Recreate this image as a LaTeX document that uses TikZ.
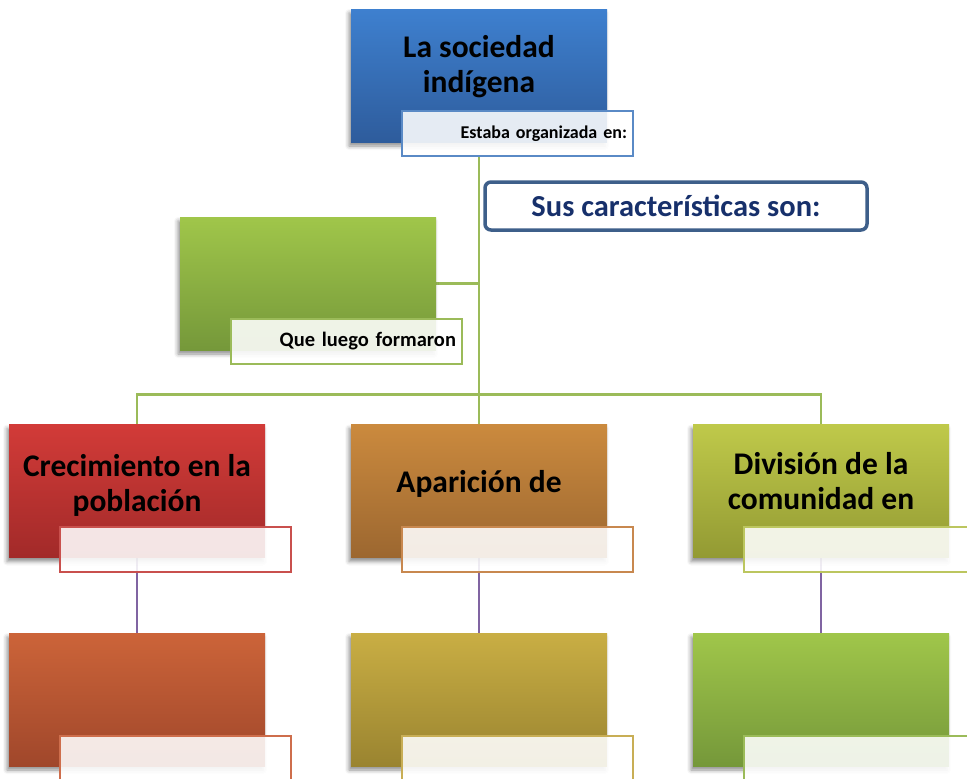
\documentclass[tikz,border=0pt]{standalone}
\usepackage{fontspec}
\setmainfont{Carlito}
\usetikzlibrary{shadows.blur,backgrounds}
\definecolor{blueT}{HTML}{3E80CF}
\definecolor{blueB}{HTML}{2E5C9C}
\definecolor{blueL}{HTML}{5A8AC6}
\definecolor{greenT}{HTML}{A0C64A}
\definecolor{greenB}{HTML}{75983A}
\definecolor{greenL}{HTML}{9BBB59}
\definecolor{redT}{HTML}{D23B38}
\definecolor{redB}{HTML}{A22A29}
\definecolor{redL}{HTML}{C9504D}
\definecolor{orT}{HTML}{CB8A3E}
\definecolor{orB}{HTML}{9C6730}
\definecolor{orL}{HTML}{C8884F}
\definecolor{ygT}{HTML}{BFC94A}
\definecolor{ygB}{HTML}{939A33}
\definecolor{ygL}{HTML}{BCC65F}
\definecolor{ruT}{HTML}{CC6439}
\definecolor{ruB}{HTML}{A0472B}
\definecolor{ruL}{HTML}{CE6E4C}
\definecolor{olT}{HTML}{C9AE44}
\definecolor{olB}{HTML}{9A8430}
\definecolor{olL}{HTML}{C8AE55}
\definecolor{susB}{HTML}{3E5F8A}
\definecolor{susT}{HTML}{17306B}
\definecolor{linG}{HTML}{9BBB59}
\definecolor{linP}{HTML}{8064A2}
\begin{document}
\begin{tikzpicture}[x=1pt,y=-1pt,
  bigbox/.style 2 args={minimum width=256pt, minimum height=133pt, inner sep=0pt,
    top color=#1, bottom color=#2,
    blur shadow={shadow xshift=-2pt, shadow yshift=-4pt, shadow blur radius=4pt, shadow opacity=45}},
  labbox/.style={draw=#1, line width=2pt, fill=white, fill opacity=0.88, text opacity=1,
    minimum width=231pt, minimum height=45pt, inner ysep=0pt, inner xsep=6pt,
    text width=219pt, align=right, font=\bfseries\fontsize{18}{21}\selectfont},
  title/.style={align=center, inner sep=0pt, font=\bfseries\fontsize{31.5}{35}\selectfont},
  gline/.style={draw=linG, line width=2.5pt},
  pline/.style={draw=linP, line width=2.5pt}]
\useasboundingbox (0,0) rectangle (967,779);
\begin{scope}
\clip (0,0) rectangle (967,779);
% top
\node[bigbox={blueT}{blueB}] (top) at (479,75.5) {};
\node[title] (topT) at (479,67) {La sociedad\\indígena};
\node[labbox=blueL] (est) at (517.5,133.5) {Estaba organizada en:};
% characteristics
\node[draw=susB, line width=3.5pt, rounded corners=6pt, fill=white, text=susT,
  minimum width=382pt, minimum height=48pt, inner sep=0pt,
  font=\bfseries\fontsize{30.5}{34}\selectfont] (sus) at (676,206) {Sus características son:};
% left green
\node[bigbox={greenT}{greenB}] (gbox) at (308,283.5) {};
\node[labbox=greenL, font=\bfseries\fontsize{20.5}{24}\selectfont] (que) at (346.5,341.5) {Que luego formaron};
% second row
\node[bigbox={redT}{redB}] (b1) at (137,491) {};
\node[title] (b1T) at (137,485) {Crecimiento en la\\población};
\node[labbox=redL] (l1) at (175.5,549.5) {};
\node[bigbox={orT}{orB}] (b2) at (479,491) {};
\node[title, anchor=base] (b2T) at (479,492) {Aparición de};
\node[labbox=orL] (l2) at (517.5,549.5) {};
\node[bigbox={ygT}{ygB}] (b3) at (821,491) {};
\node[title] (b3T) at (821,481.5) {División de la\\comunidad en};
\node[labbox=ygL] (l3) at (859.5,549.5) {};
% third row
\node[bigbox={ruT}{ruB}] (c1) at (137,699.5) {};
\node[labbox=ruL] (m1) at (175.5,758.5) {};
\node[bigbox={olT}{olB}] (c2) at (479,699.5) {};
\node[labbox=olL] (m2) at (517.5,758.5) {};
\node[bigbox={greenT}{greenB}] (c3) at (821,699.5) {};
\node[labbox=greenL] (m3) at (859.5,758.5) {};
\coordinate (j) at (479,394.5);
\end{scope}
\begin{pgfonlayer}{background}
\draw[gline] (j |- est.south) -- (j);
\draw[gline] (gbox.east) -- (gbox.east -| j);
\draw[gline] (b1.north) |- (j) -| (b3.north);
\draw[gline] (j) -- (b2.north);
\draw[pline] (b1.south) -- (c1.north);
\draw[pline] (b2.south) -- (c2.north);
\draw[pline] (b3.south) -- (c3.north);
\end{pgfonlayer}
\end{tikzpicture}
\end{document}
